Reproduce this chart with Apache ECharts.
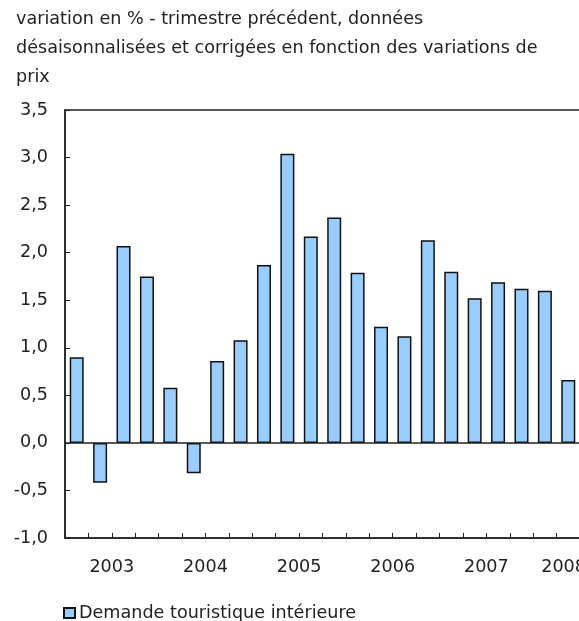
<!DOCTYPE html>
<html lang="fr">
<head>
  <meta charset="UTF-8">
  <title>Demande touristique intérieure</title>
  <style>
    html, body { margin: 0; padding: 0; width: 100%; height: 100%; background: #fff; }
    #main { width: 579px; height: 621px; }
  </style>
</head>
<body>
  <div id="main"></div>
  <script src="https://cdn.jsdelivr.net/npm/echarts@6/dist/echarts.min.js"></script>
  <script type="text/javascript">
    // trimestres 2003 T1 -> 2008 T2
    const quarters = [
      '2003T1', '2003T2', '2003T3', '2003T4',
      '2004T1', '2004T2', '2004T3', '2004T4',
      '2005T1', '2005T2', '2005T3', '2005T4',
      '2006T1', '2006T2', '2006T3', '2006T4',
      '2007T1', '2007T2', '2007T3', '2007T4',
      '2008T1', '2008T2'
    ];
    const demande = [
      0.90, -0.42, 2.07, 1.75,
      0.58, -0.32, 0.86, 1.08,
      1.87, 3.04, 2.17, 2.37,
      1.79, 1.22, 1.12, 2.13,
      1.80, 1.52, 1.69, 1.62,
      1.60, 0.66
    ];
    // étiquettes des années, placées au milieu de chaque année (en trimestres)
    const yearLabels = ['2003', '2004', '2005', '2006', '2007', '2008'];
    const yearPos = [2, 6, 10, 14, 18, 21.3];

    const seriesName = 'Demande touristique intérieure';
    const titleText = 'variation en % - trimestre précédent, données\n' +
      'désaisonnalisées et corrigées en fonction des variations de\nprix';

    const font = 'DejaVu Sans, sans-serif';
    const fs = 17.6;
    const ink = '#222';

    const myChart = echarts.init(document.getElementById('main'));

    const option = {
      animation: false,
      backgroundColor: '#fff',
      textStyle: { fontFamily: font },
      title: {
        text: titleText,
        left: 11,
        top: 0,
        textStyle: {
          fontFamily: font,
          fontSize: fs,
          fontWeight: 'normal',
          color: ink,
          lineHeight: 29
        }
      },
      legend: {
        left: 58,
        top: 599,
        itemWidth: 11,
        itemHeight: 10,
        itemGap: 4,
        icon: 'rect',
        textStyle: { fontFamily: font, fontSize: fs, color: ink, padding: [0, 0, 0, -1] },
        data: [seriesName]
      },
      grid: {
        left: 65,
        top: 110,
        width: 515,
        height: 428,
        outerBoundsMode: 'none',
        containLabel: false,
        show: true,
        borderColor: ink,
        borderWidth: 1.5
      },
      xAxis: [
        {
          type: 'category',
          data: quarters,
          boundaryGap: true,
          axisLine: { onZero: false, lineStyle: { color: ink, width: 1.5 } },
          axisTick: { show: true, inside: true, length: 5, interval: 0, lineStyle: { color: ink } },
          axisLabel: { show: false },
          splitLine: { show: false }
        },
        {
          type: 'value',
          position: 'bottom',
          min: 0,
          max: quarters.length,
          axisLine: { show: false },
          axisTick: { show: false },
          splitLine: { show: false },
          axisLabel: {
            show: true,
            customValues: yearPos,
            margin: 20,
            fontFamily: font,
            fontSize: fs,
            color: ink,
            formatter: function (v) {
              const i = yearPos.indexOf(v);
              return i >= 0 ? yearLabels[i] : '';
            }
          }
        }
      ],
      yAxis: {
        type: 'value',
        min: -1,
        max: 3.5,
        interval: 0.5,
        axisLine: { show: true, lineStyle: { color: ink, width: 1.5 } },
        axisTick: { show: true, inside: true, length: 5, lineStyle: { color: ink } },
        splitLine: { show: false },
        axisLabel: {
          margin: 17,
          fontFamily: font,
          fontSize: fs,
          color: ink,
          formatter: function (v) { return v.toFixed(1).replace('.', ','); }
        }
      },
      series: [{
        name: seriesName,
        type: 'bar',
        xAxisIndex: 0,
        data: demande,
        barWidth: 14,
        itemStyle: { color: '#99ccff', borderColor: '#111', borderWidth: 1.5 },
        markLine: {
          silent: true,
          symbol: 'none',
          label: { show: false },
          lineStyle: { color: ink, width: 1.5, type: 'solid' },
          data: [{ yAxis: 0 }]
        }
      }]
    };

    myChart.setOption(option);
  </script>
</body>
</html>
